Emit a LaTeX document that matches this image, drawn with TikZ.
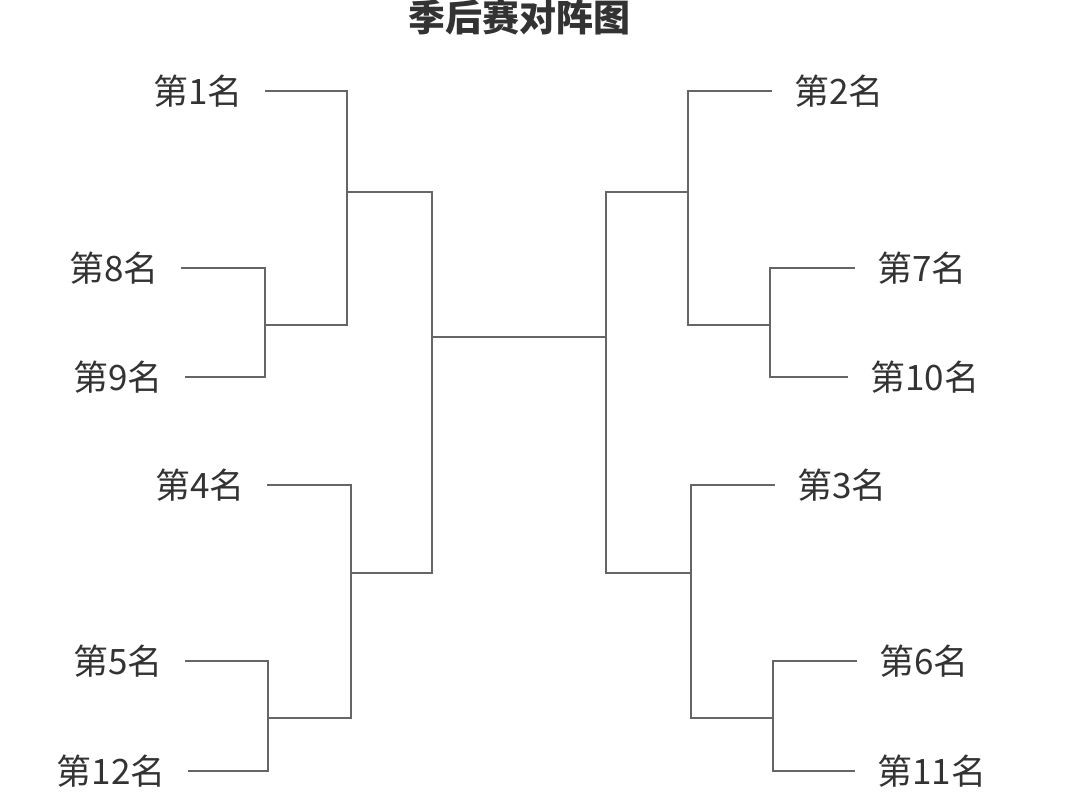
\documentclass[tikz,border=0pt]{standalone}
\usepackage{fontspec}
\usepackage{tikz}
\usepackage{xcolor}
\newfontfamily\cjk{Noto Sans CJK SC}
\definecolor{txtgray}{HTML}{333333}
\definecolor{linegray}{HTML}{666666}

\begin{document}
\begin{tikzpicture}[x=1pt,y=-1pt,
  seed/.style={font=\cjk\fontsize{35}{35}\selectfont,text=txtgray,inner xsep=22pt,inner ysep=0pt},
  bline/.style={draw=linegray,line width=1.3pt}]

\useasboundingbox (0,0) rectangle (1080,796);
\node[font=\cjk\bfseries\fontsize{37}{37}\selectfont,text=txtgray] (title) at (519,17) {季后赛对阵图};

% left half
\node[seed,anchor=east] (r1) at (265,91) {第1名};
\node[seed,anchor=east] (r8) at (181,268) {第8名};
\node[seed,anchor=east] (r9) at (185,377) {第9名};
\node[seed,anchor=east] (r4) at (267,485) {第4名};
\node[seed,anchor=east] (r5) at (185,661) {第5名};
\node[seed,anchor=east] (r12) at (188,771) {第12名};

\coordinate (q89) at (265,325);
\coordinate (s1) at (347,192);
\coordinate (q512) at (268,718);
\coordinate (s4) at (351,573);
\coordinate (hl) at (432,337);

\draw[bline] (r8.east) -| (q89) |- (r9.east);
\draw[bline] (r1.east) -| (s1) |- (q89);
\draw[bline] (r5.east) -| (q512) |- (r12.east);
\draw[bline] (r4.east) -| (s4) |- (q512);
\draw[bline] (s1) -| (hl) |- (s4);

% right half
\node[seed,anchor=west] (r2) at (772,91) {第2名};
\node[seed,anchor=west] (r7) at (855,268) {第7名};
\node[seed,anchor=west] (r10) at (848,377) {第10名};
\node[seed,anchor=west] (r3) at (775,485) {第3名};
\node[seed,anchor=west] (r6) at (857,661) {第6名};
\node[seed,anchor=west] (r11) at (855,771) {第11名};

\coordinate (q710) at (770,325);
\coordinate (s2) at (688,192);
\coordinate (q611) at (773,718);
\coordinate (s3) at (691,573);
\coordinate (hr) at (606,337);

\draw[bline] (r7.west) -| (q710) |- (r10.west);
\draw[bline] (r2.west) -| (s2) |- (q710);
\draw[bline] (r6.west) -| (q611) |- (r11.west);
\draw[bline] (r3.west) -| (s3) |- (q611);
\draw[bline] (s2) -| (hr) |- (s3);

% final
\draw[bline] (hl) -- (hr);

\end{tikzpicture}
\end{document}
